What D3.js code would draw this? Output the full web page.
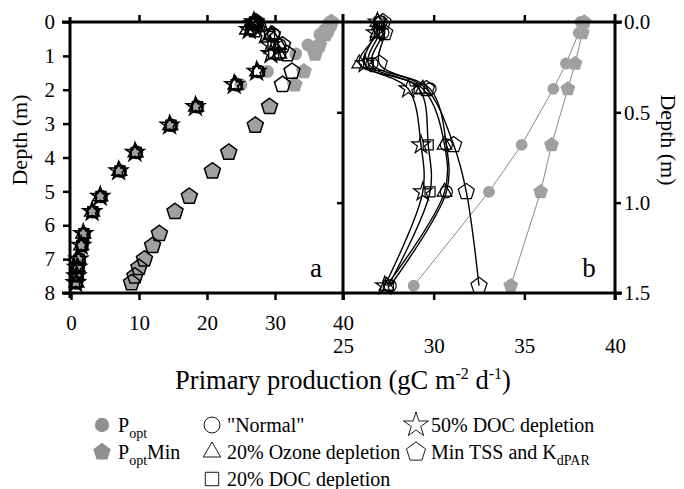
<!DOCTYPE html>
<html><head><meta charset="utf-8">
<script src="https://cdn.jsdelivr.net/npm/d3@7"></script>
<style>
body{margin:0;background:#fff;}
svg{display:block;}
svg text{font-family:"Liberation Serif","Times New Roman",serif;}
</style></head>
<body>
<svg id="chart" width="684" height="489"></svg>
<script>
// ---------- data ----------
const depths   = [0, 0.06, 0.23, 0.37, 0.68, 0.94, 1.46, 1.85, 2.5, 3.05, 3.85, 4.4, 5.15, 5.6, 6.25, 6.6, 7.0, 7.25, 7.5, 7.7];
const normal   = [27.1, 27.2, 26.6, 29.8, 30.7, 30.7, 27.6, 24.3, 18.5, 14.7, 9.6, 7.2, 4.4, 3.2, 1.9, 1.6, 1.2, 1.0, 0.9, 0.8];
const ozone20  = [26.9, 26.9, 25.9, 29.4, 30.6, 30.6, 27.4, 24.2, 18.4, 14.6, 9.5, 7.1, 4.3, 3.1, 1.8, 1.5, 1.1, 1.0, 0.9, 0.8];
const doc20    = [27.0, 27.0, 26.4, 29.2, 29.7, 29.8, 27.5, 24.3, 18.6, 14.7, 9.6, 7.2, 4.4, 3.2, 1.9, 1.6, 1.2, 1.0, 0.9, 0.8];
const doc50    = [26.9, 26.8, 26.2, 28.6, 29.3, 29.4, 27.3, 24.0, 18.3, 14.5, 9.4, 7.0, 4.3, 3.1, 1.8, 1.5, 1.1, 0.9, 0.8, 0.7];
const minTSS   = [27.2, 27.3, 27.0, 29.6, 31.1, 31.8, 32.5, 31.1, 29.2, 27.1, 23.2, 20.8, 17.4, 15.3, 13.0, 12.0, 10.8, 10.0, 9.4, 8.9];
const pOpt     = [38.1, 38.0, 37.3, 36.6, 34.85, 33.05, 28.9, 25.0, 18.7, 14.9, 9.7, 7.3, 4.5, 3.3, 2.0, 1.7, 1.3, 1.1, 1.0, 0.9];
const pOptMin  = [38.3, 38.2, 37.8, 37.4, 36.5, 35.9, 34.25, 32.9, 29.2, 27.1, 23.2, 20.8, 17.4, 15.3, 13.0, 12.0, 10.8, 10.0, 9.4, 8.9];

const xTicksA = [0, 10, 20, 30, 40];
const xTicksB = [25, 30, 35, 40];
const yTicksA = [0, 1, 2, 3, 4, 5, 6, 7, 8];
const yTicksB = [0, 0.5, 1.0, 1.5];
const legendLabels = ['"Normal"', "20% Ozone depletion", "20% DOC depletion", "50% DOC depletion"];

// ---------- setup ----------
const FONT = '"Liberation Serif","Times New Roman",serif';
const svg = d3.select("#chart");
const xA = d3.scaleLinear().domain([0, 40]).range([71, 343]);
const yA = d3.scaleLinear().domain([0, 8]).range([22, 293]);
const xB = d3.scaleLinear().domain([25, 40]).range([343, 615]);
const yB = d3.scaleLinear().domain([0, 1.5]).range([22, 293]);

const pentagon = {
  draw(ctx, size) {
    const r = Math.sqrt(size / 2.378);
    for (let i = 0; i < 5; i++) {
      const a = -Math.PI / 2 + i * 2 * Math.PI / 5;
      const x = r * Math.cos(a), y = r * Math.sin(a);
      if (i) ctx.lineTo(x, y); else ctx.moveTo(x, y);
    }
    ctx.closePath();
  }
};
const GRAY = "#a0a0a0";
const black = [
  {name: "normal", vals: normal, type: d3.symbolCircle, size: 115},
  {name: "ozone", vals: ozone20, type: d3.symbolTriangle, size: 95},
  {name: "doc20", vals: doc20, type: d3.symbolSquare, size: 100},
  {name: "doc50", vals: doc50, type: d3.symbolStar, size: 105},
  {name: "minTSS", vals: minTSS, type: pentagon, size: 170}
];
const grays = [
  {name: "pOpt", vals: pOpt, type: d3.symbolCircle, size: 130},
  {name: "pOptMin", vals: pOptMin, type: pentagon, size: 170}
];
const rows = (vals, maxD) => depths.map((d, i) => ({d, v: vals[i]})).filter(p => p.d <= maxD);

// ---------- panel a ----------
const gA = svg.append("g");
grays.forEach(s => {
  gA.selectAll(null).data(rows(s.vals, 8)).join("path")
    .attr("transform", p => `translate(${xA(p.v)},${yA(p.d)})`)
    .attr("d", d3.symbol().type(s.type).size(s.size))
    .attr("fill", GRAY);
});
black.forEach(s => {
  gA.selectAll(null).data(rows(s.vals, 8)).join("path")
    .attr("transform", p => `translate(${xA(p.v)},${yA(p.d)})`)
    .attr("d", d3.symbol().type(s.type).size(s.size))
    .attr("fill", "none").attr("stroke", "#000").attr("stroke-width", 1.5);
});

// ---------- panel b ----------
const gB = svg.append("g");
const lineB = d3.line().x(p => xB(p.v)).y(p => yB(p.d));
grays.forEach(s => {
  const r = rows(s.vals, 1.5);
  gB.append("path").datum(r).attr("d", lineB.curve(d3.curveLinear))
    .attr("fill", "none").attr("stroke", "#8a8a8a").attr("stroke-width", 1);
  gB.selectAll(null).data(r).join("path")
    .attr("transform", p => `translate(${xB(p.v)},${yB(p.d)})`)
    .attr("d", d3.symbol().type(s.type).size(s.size * 0.85))
    .attr("fill", GRAY);
});
black.forEach(s => {
  const r = rows(s.vals, 1.5);
  gB.append("path").datum(r).attr("d", lineB.curve(d3.curveCatmullRom))
    .attr("fill", "none").attr("stroke", "#000").attr("stroke-width", 1.4);
});
black.forEach(s => {
  gB.selectAll(null).data(rows(s.vals, 1.5)).join("path")
    .attr("transform", p => `translate(${xB(p.v)},${yB(p.d)})`)
    .attr("d", d3.symbol().type(s.type).size(s.size))
    .attr("fill", "none").attr("stroke", "#000").attr("stroke-width", 1.2);
});

// ---------- axes ----------
function styleAxis(g, fs) {
  g.attr("font-family", FONT).attr("font-size", fs);
  g.select(".domain").remove();
  g.selectAll(".tick line").attr("stroke", "#000").attr("stroke-width", 2.5);
  g.selectAll(".tick text").attr("fill", "#000").attr("font-family", FONT).attr("font-size", fs);
}
styleAxis(svg.append("g").attr("transform", "translate(70,0)")
  .call(d3.axisLeft(yA).tickValues(yTicksA).tickSize(7).tickPadding(8).tickFormat(d3.format("d"))), 21);
styleAxis(svg.append("g").attr("transform", "translate(0,22)")
  .call(d3.axisTop(xA).tickValues([10, 20, 30]).tickSize(7).tickFormat("")), 20);
styleAxis(svg.append("g").attr("transform", "translate(0,22)")
  .call(d3.axisTop(xB).tickValues([30, 35]).tickSize(7).tickFormat("")), 20);
styleAxis(svg.append("g").attr("transform", "translate(0,293)")
  .call(d3.axisBottom(xA).tickValues(xTicksA).tickSize(7).tickPadding(15).tickFormat(d3.format("d"))), 21);
styleAxis(svg.append("g").attr("transform", "translate(0,293)")
  .call(d3.axisBottom(xB).tickValues(xTicksB).tickSize(7).tickPadding(38).tickFormat(d3.format("d"))), 21);
styleAxis(svg.append("g").attr("transform", "translate(615,0)")
  .call(d3.axisRight(yB).tickValues(yTicksB).tickSize(6).tickPadding(3).tickFormat(d3.format(".1f"))), 21);
styleAxis(svg.append("g").attr("transform", "translate(343,0)")
  .call(d3.axisLeft(yB).tickValues([0.5, 1.0]).tickSize(6).tickFormat("")), 20);

// frame
const frame = [
  [62, 22, 622, 22], [62, 293, 622, 293],
  [70, 17, 70, 298], [343, 14, 343, 300], [615, 14, 615, 300]
];
svg.append("g").selectAll("line").data(frame).join("line")
  .attr("x1", d => d[0]).attr("y1", d => d[1]).attr("x2", d => d[2]).attr("y2", d => d[3])
  .attr("stroke", "#000").attr("stroke-width", 3);

// panel letters
svg.append("text").attr("x", 316).attr("y", 277).attr("text-anchor", "middle")
  .style("font-size", "27px").text("a");
svg.append("text").attr("x", 589).attr("y", 277).attr("text-anchor", "middle")
  .style("font-size", "27px").text("b");

// axis titles
svg.append("text").attr("transform", "translate(27,140) rotate(-90)").attr("text-anchor", "middle")
  .style("font-size", "22px").text("Depth (m)");
svg.append("text").attr("transform", "translate(661,140) rotate(90)").attr("text-anchor", "middle")
  .style("font-size", "22px").text("Depth (m)");
const tt = svg.append("text").attr("x", 343).attr("y", 389).attr("text-anchor", "middle").style("font-size", "26.5px");
tt.append("tspan").text("Primary production (gC m");
tt.append("tspan").attr("dy", -10).style("font-size", "16px").text("-2");
tt.append("tspan").attr("dy", 10).text(" d");
tt.append("tspan").attr("dy", -10).style("font-size", "16px").text("-1");
tt.append("tspan").attr("dy", 10).text(")");

// ---------- legend ----------
const lg = svg.append("g").style("font-size", "20px");
lg.append("path").attr("transform", "translate(102,425)").attr("d", d3.symbol().type(d3.symbolCircle).size(160)).attr("fill", "#8f8f8f");
let t = lg.append("text").attr("x", 118).attr("y", 432);
t.append("tspan").text("P");
t.append("tspan").attr("dy", 6).style("font-size", "14px").text("opt");
lg.append("path").attr("transform", "translate(102,452)").attr("d", d3.symbol().type(pentagon).size(200)).attr("fill", "#8f8f8f");
t = lg.append("text").attr("x", 118).attr("y", 459);
t.append("tspan").text("P");
t.append("tspan").attr("dy", 6).style("font-size", "14px").text("opt");
t.append("tspan").attr("dy", -6).text("Min");

const legItems = [
  {type: d3.symbolCircle, size: 200, x: 212, y: 425, label: legendLabels[0]},
  {type: d3.symbolTriangle, size: 130, x: 212, y: 452, label: legendLabels[1]},
  {type: d3.symbolSquare, size: 180, x: 212, y: 479, label: legendLabels[2]},
  {type: d3.symbolStar, size: 190, x: 416, y: 425, label: legendLabels[3]}
];
legItems.forEach(it => {
  lg.append("path").attr("transform", `translate(${it.x},${it.y})`)
    .attr("d", d3.symbol().type(it.type).size(it.size))
    .attr("fill", "none").attr("stroke", "#000").attr("stroke-width", 0.9);
  lg.append("text").attr("x", it.x + 15).attr("y", it.y + 7).text(it.label);
});
lg.append("path").attr("transform", "translate(416,452)").attr("d", d3.symbol().type(pentagon).size(240))
  .attr("fill", "none").attr("stroke", "#000").attr("stroke-width", 0.9);
t = lg.append("text").attr("x", 431).attr("y", 459);
t.append("tspan").text("Min TSS and K");
t.append("tspan").attr("dy", 6).style("font-size", "14px").text("dPAR");
</script>
</body></html>
